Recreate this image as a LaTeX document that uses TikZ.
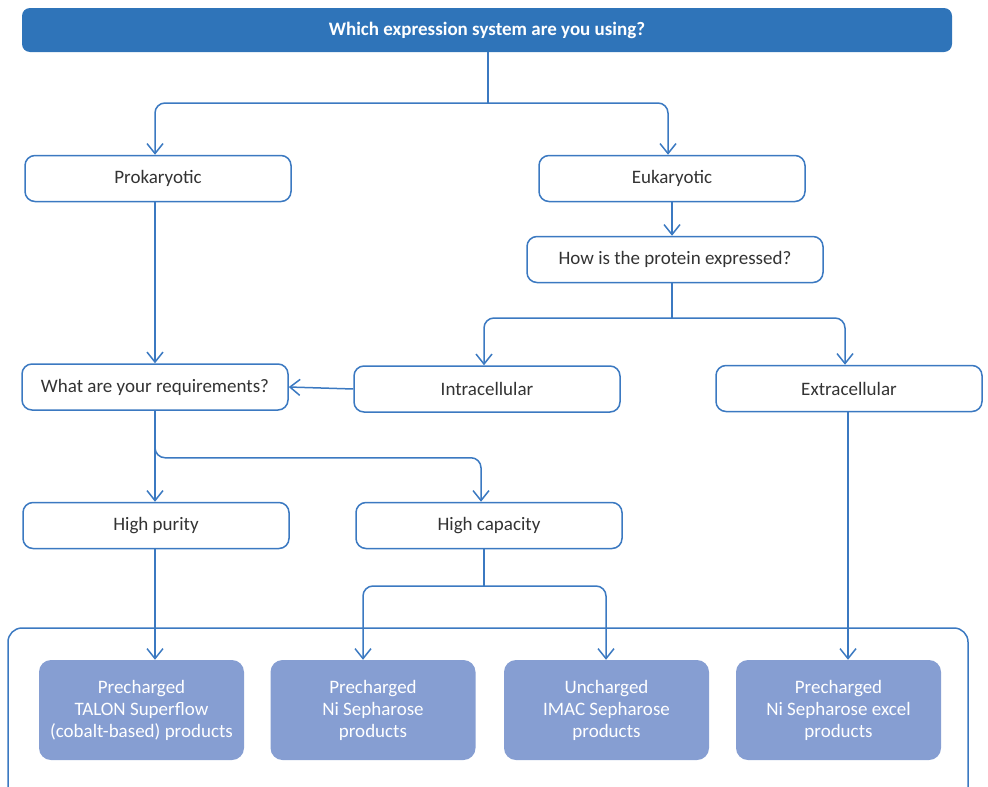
\documentclass[tikz,border=0pt]{standalone}
\usepackage{fontspec}
\setmainfont{Carlito}
\usetikzlibrary{arrows.meta}
\definecolor{gblue}{HTML}{2F74B9}
\definecolor{lblue}{HTML}{3B79C1}
\definecolor{pblue}{HTML}{869ED2}
\definecolor{tgray}{HTML}{333333}
\tikzset{
  qbox/.style={draw=lblue, line width=1.5pt, rounded corners=10pt, fill=white,
    minimum width=266pt, minimum height=46pt, inner sep=0pt,
    text=tgray, font=\fontsize{19}{21}\selectfont},
  pbox/.style={fill=pblue, rounded corners=12pt, minimum width=205pt,
    minimum height=100pt, inner sep=0pt, text=white, align=center,
    font=\fontsize{19}{22}\selectfont},
  conn/.style={draw=lblue, line width=1.5pt, rounded corners=10pt},
  arr/.style={conn, -{Straight Barb[length=10pt,width=16pt,line width=1.5pt]}}
}
\begin{document}
\begin{tikzpicture}[x=1pt,y=-1pt]
\useasboundingbox (0,0) rectangle (988,787);
\clip (0,0) rectangle (988,787);
% outer container
\draw[draw=lblue, line width=1.5pt, rounded corners=14pt] (8,628) rectangle (968,820);
% banner
\node[fill=gblue, rounded corners=8pt, minimum width=930pt, minimum height=44pt,
  inner sep=0pt, text=white, font=\fontsize{19}{21}\selectfont\bfseries]
  (top) at (487,30) {Which expression system are you using?};
% boxes
\node[qbox] (pro) at (158,178.5) {Prokaryotic};
\node[qbox] (euk) at (672,178.5) {Eukaryotic};
\node[qbox, minimum width=296pt] (how) at (675,259.5) {How is the protein expressed?};
\node[qbox] (req) at (155,387) {What are your requirements?};
\node[qbox] (intra) at (487,389) {Intracellular};
\node[qbox] (extra) at (849,388.5) {Extracellular};
\node[qbox] (hp) at (156,525.5) {High purity};
\node[qbox] (hc) at (489,525.5) {High capacity};
% product boxes
\node[pbox] (b1) at (141.5,710) {Precharged\\TALON Superflow\\(cobalt-based) products};
\node[pbox] (b2) at (373,710) {Precharged\\Ni Sepharose\\products};
\node[pbox] (b3) at (606.5,710) {Uncharged\\IMAC Sepharose\\products};
\node[pbox] (b4) at (838.5,710) {Precharged\\Ni Sepharose excel\\products};
% connectors
\coordinate (j1) at (488,103);
\draw[conn] (top.south -| j1) -- (j1);
\draw[arr] (j1) -| ([xshift=-3pt]pro.north);
\draw[arr] (j1) -| ([xshift=-4pt]euk.north);
\draw[arr] (euk.south) -- (euk.south |- how.north);
\coordinate (j2) at (672,318);
\draw[conn] (how.south -| j2) -- (j2);
\draw[arr] (j2) -| ([xshift=-3pt]intra.north);
\draw[arr] (j2) -| ([xshift=-4pt]extra.north);
\draw[arr] ([xshift=-3pt]pro.south) -- (req.north);
\draw[arr] (intra.west) -- (req.east);
\draw[arr] (req.south) -- (req.south |- hp.north);
\draw[arr] (req.south) -- ++(0,47) -| ([xshift=-8pt]hc.north);
\draw[arr] ([xshift=-1pt]hp.south) -- ([xshift=-1pt]hp.south |- b1.north);
\coordinate (j3) at (484,586);
\draw[conn] (hc.south -| j3) -- (j3);
\draw[arr] (j3) -| ([xshift=-10pt]b2.north);
\draw[arr] (j3) -| ([xshift=-0.5pt]b3.north);
\draw[arr] ([xshift=-1pt]extra.south) -- ([xshift=-1pt]extra.south |- b4.north);
\end{tikzpicture}
\end{document}
